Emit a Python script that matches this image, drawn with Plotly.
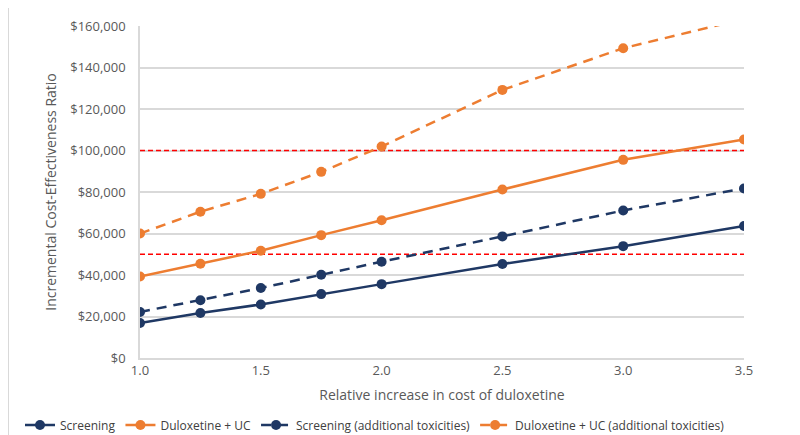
import plotly.graph_objects as go

# relative increase in cost of duloxetine
cost_multiplier = [1.0, 1.25, 1.5, 1.75, 2.0, 2.5, 3.0, 3.5]

# ICER values
screening = [16900, 21700, 25800, 30800, 35600, 45300, 53900, 63600]
duloxetine_uc = [39300, 45400, 51700, 59200, 66400, 81200, 95500, 105300]
screening_tox = [22200, 27800, 33700, 40100, 46400, 58600, 71100, 81700]
duloxetine_uc_tox = [60000, 70500, 79100, 89700, 101900, 129200, 149300, 163400]

# willingness-to-pay thresholds
thresholds = [50000, 100000]

NAVY = "#1F3864"
ORANGE = "#ED7D31"
FONT = "Open Sans"

W, H = 800, 435
L, R, T, B = 132, 64, 18, 85
pw, ph = W - L - R, H - T - B

series = [
    ("Screening", screening, NAVY, "solid"),
    ("Duloxetine + UC", duloxetine_uc, ORANGE, "solid"),
    ("Screening (additional toxicities)", screening_tox, NAVY, "dash"),
    ("Duloxetine + UC (additional toxicities)", duloxetine_uc_tox, ORANGE, "dash"),
]

fig = go.Figure()

for wtp in thresholds:
    fig.add_trace(go.Scatter(
        x=[cost_multiplier[0], cost_multiplier[-1]], y=[wtp, wtp],
        mode="lines", line=dict(color="#FF0000", width=1.5, dash="5px,3px"),
        showlegend=False, hoverinfo="skip",
    ))

for name, vals, color, dash in series:
    fig.add_trace(go.Scatter(
        x=cost_multiplier, y=vals, name=name, mode="lines+markers",
        line=dict(color=color, width=2.5, dash="10px,7px" if dash == "dash" else "solid"),
        marker=dict(color=color, size=10),
    ))

# light frame round the whole chart
fig.add_shape(
    type="rect", xref="paper", yref="paper",
    x0=-(L - 0.5) / pw, x1=(W - L - 0.5) / pw,
    y0=-(B - 0.5) / ph, y1=(H - T - 0.5) / ph,
    line=dict(color="#D9D9D9", width=1), layer="below",
)

fig.update_layout(
    width=W, height=H,
    # fixed margins so the legend does not squeeze the plot area
    margin=dict(l=L, r=R, t=T, b=B, autoexpand=False),
    plot_bgcolor="white", paper_bgcolor="white",
    font=dict(family=FONT, size=13, color="#595959"),
    legend=dict(
        orientation="h", x=(12 - L) / pw, xanchor="left",
        y=-(417 - (H - B)) / ph, yanchor="middle",
        font=dict(size=12, color="#404040"), itemwidth=30,
    ),
    xaxis=dict(
        range=[1.0, 3.5], dtick=0.5, tickformat=".1f",
        showgrid=False, showline=True, linecolor="#D9D9D9", linewidth=1.5,
        zeroline=False, ticks="",
        title=dict(text="Relative increase in cost of duloxetine",
                   font=dict(size=14, color="#595959"), standoff=12),
    ),
    yaxis=dict(
        range=[0, 160000], dtick=20000, tickprefix="$", tickformat=",",
        showgrid=True, gridcolor="#D9D9D9", gridwidth=1.5,
        showline=True, linecolor="#D9D9D9", linewidth=1.5,
        zeroline=False, ticks="", ticklabelstandoff=10,
        title=dict(text="Incremental Cost-Effectiveness Ratio",
                   font=dict(size=14, color="#595959"), standoff=10),
    ),
)

fig.write_html("out.html")
